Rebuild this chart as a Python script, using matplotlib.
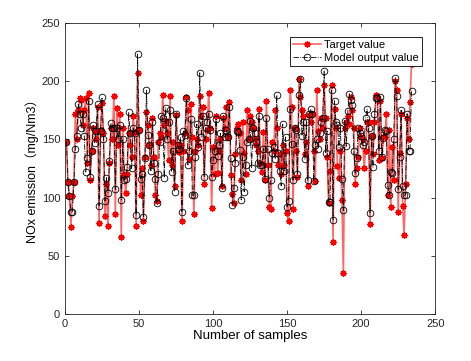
#!/usr/bin/env python3
"""
NOx emission: target value vs model output value over the sample index.
"""

import matplotlib
matplotlib.use("Agg")
import matplotlib.pyplot as plt

# Values (sample index starts at 1)
target_value = [
    148, 113, 101, 75, 101, 113, 172, 150, 175, 185,
    184, 162, 175, 185, 130, 190, 115, 140, 160, 157,
    150, 178, 78, 158, 181, 155, 84, 112, 76, 130,
    160, 150, 187, 86, 177, 145, 172, 66, 160, 119,
    104, 120, 155, 145, 135, 170, 156, 76, 207, 158,
    102, 125, 80, 135, 173, 162, 145, 128, 168, 135,
    102, 97, 148, 155, 152, 188, 162, 166, 155, 132,
    187, 128, 148, 110, 171, 145, 139, 145, 80, 140,
    155, 186, 175, 133, 180, 152, 86, 140, 150, 145,
    187, 170, 178, 112, 150, 158, 190, 160, 91, 143,
    120, 170, 121, 140, 150, 110, 168, 160, 178, 152,
    182, 119, 103, 95, 137, 160, 163, 155, 115, 165,
    138, 120, 175, 150, 170, 165, 160, 150, 145, 140,
    176, 130, 122, 156, 115, 183, 128, 92, 90, 148,
    140, 175, 160, 128, 137, 120, 145, 128, 140, 87,
    80, 192, 178, 90, 160, 140, 118, 202, 186, 175,
    170, 137, 148, 110, 171, 165, 172, 140, 114, 192,
    157, 150, 168, 160, 197, 168, 135, 95, 123, 197,
    62, 176, 160, 127, 117, 140, 98, 35, 160, 165,
    170, 163, 186, 175, 160, 112, 125, 135, 160, 152,
    150, 125, 140, 165, 165, 77, 153, 137, 165, 188,
    187, 132, 183, 134, 152, 152, 172, 102, 158, 92,
    143, 115, 200, 192, 88, 138, 172, 93, 68, 112,
    168, 150, 182, 215,
]

model_output = [
    148, 113, 101, 88, 88, 113, 142, 153, 180, 172,
    160, 172, 153, 122, 134, 183, 118, 140, 162, 147,
    157, 180, 93, 157, 186, 150, 97, 117, 104, 131,
    164, 160, 160, 107, 160, 150, 162, 98, 150, 115,
    116, 126, 173, 155, 125, 160, 155, 85, 223, 158,
    116, 120, 83, 134, 192, 154, 145, 123, 165, 130,
    116, 95, 120, 148, 170, 168, 117, 177, 150, 165,
    175, 122, 140, 105, 172, 145, 142, 152, 88, 157,
    154, 185, 128, 140, 167, 102, 102, 135, 163, 143,
    207, 152, 170, 118, 160, 165, 172, 158, 118, 132,
    140, 167, 136, 145, 155, 108, 170, 152, 158, 152,
    178, 134, 94, 108, 130, 157, 156, 141, 98, 135,
    105, 128, 148, 150, 166, 125, 160, 155, 148, 130,
    170, 128, 128, 142, 116, 168, 142, 100, 115, 138,
    143, 133, 188, 138, 123, 110, 163, 123, 152, 92,
    97, 176, 146, 115, 160, 158, 120, 188, 202, 153,
    165, 133, 165, 115, 172, 176, 172, 114, 145, 150,
    142, 155, 165, 168, 209, 138, 157, 96, 96, 192,
    81, 183, 165, 162, 143, 160, 116, 89, 166, 144,
    174, 189, 184, 179, 140, 121, 134, 160, 155, 153,
    145, 148, 168, 176, 160, 87, 153, 126, 172, 185,
    185, 140, 186, 135, 151, 158, 157, 111, 102, 122,
    121, 150, 203, 187, 107, 135, 175, 110, 102, 102,
    172, 140, 140, 191,
]

sample_no = list(range(1, len(target_value) + 1))

plt.rcParams["font.family"] = ["Liberation Sans", "Noto Sans CJK SC", "DejaVu Sans"]

fig = plt.figure(figsize=(4.71, 3.61), dpi=100)
ax = fig.add_axes([0.138, 0.130, 0.786, 0.807])

# asterisk marker like MATLAB's '*'
ax.plot(sample_no, target_value, "-", marker=(8, 2, 0), color=(1, 0, 0, 0.6),
        lw=1.2, mec="red", mfc="red", mew=1.0, ms=4.5, label="Target value")
ax.plot(sample_no, model_output, "-.o", color="black", lw=0.6,
        mfc="none", mec="black", mew=0.6, ms=4.8, label="Model output value")

ax.set_xlim(0, 250)
ax.set_ylim(0, 250)
ax.set_xticks([0, 50, 100, 150, 200, 250])
ax.set_yticks([0, 50, 100, 150, 200, 250])
ax.tick_params(direction="in", length=3, labelsize=8, width=0.6,
               top=True, right=True, colors="#262626")
for s in ax.spines.values():
    s.set_linewidth(0.6)
    s.set_color("#262626")

ax.set_xlabel("Number of samples", fontsize=9.5, labelpad=1)
ax.set_ylabel("NOx emission（mg/Nm3）", fontsize=9, labelpad=2)

leg = ax.legend(loc="upper right", bbox_to_anchor=(0.98, 0.97), fontsize=8,
                fancybox=False, edgecolor="black", framealpha=1,
                borderpad=0.3, handlelength=2.5, handletextpad=0.3,
                labelspacing=0.2)
leg.get_frame().set_linewidth(0.6)

fig.savefig("out.png", dpi=100)
